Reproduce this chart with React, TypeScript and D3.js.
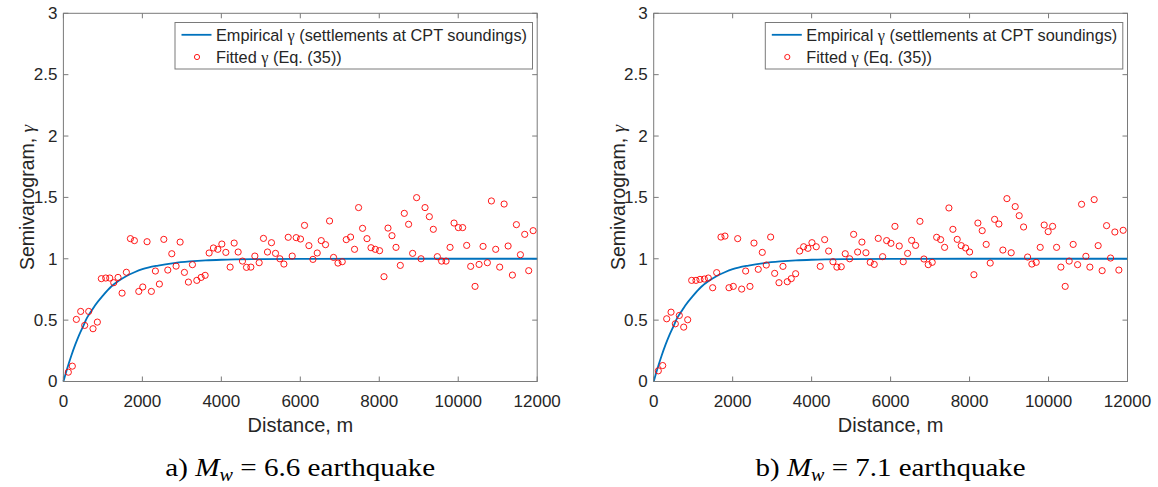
import React from "react";
import * as d3 from "d3";

// ---------- data ----------
const xTicks = [0, 2000, 4000, 6000, 8000, 10000, 12000];
const yTicks = [0, 0.5, 1, 1.5, 2, 2.5, 3];

const curveDist = [0, 100, 200, 300, 400, 500, 600, 700, 800, 1000, 1200, 1400, 1600, 1800, 2000, 2400, 2800, 3200, 3600, 4000, 5000, 6000, 8000, 10000, 12000];
const curveGammaA = [0, 0.11, 0.21, 0.3, 0.38, 0.45, 0.52, 0.57, 0.62, 0.7, 0.77, 0.82, 0.86, 0.89, 0.915, 0.945, 0.965, 0.978, 0.987, 0.992, 0.997, 0.999, 1.0, 1.0, 1.0];
const curveGammaB = [0, 0.11, 0.21, 0.3, 0.38, 0.45, 0.52, 0.57, 0.62, 0.7, 0.77, 0.82, 0.86, 0.89, 0.915, 0.945, 0.965, 0.978, 0.987, 0.992, 0.997, 0.999, 1.0, 1.0, 1.0];

const distA = [125, 226, 328, 438, 539, 641, 750, 860, 961, 1072, 1174, 1275, 1384, 1486, 1595, 1697, 1798, 1909, 2010, 2119, 2228, 2330, 2431, 2543, 2644, 2745, 2854, 2956, 3065, 3166, 3268, 3379, 3488, 3590, 3691, 3800, 3911, 4013, 4114, 4223, 4325, 4426, 4535, 4637, 4748, 4849, 4958, 5067, 5169, 5270, 5372, 5483, 5585, 5694, 5795, 5896, 6005, 6107, 6218, 6320, 6429, 6530, 6639, 6741, 6842, 6954, 7062, 7164, 7273, 7374, 7476, 7577, 7689, 7790, 7899, 8008, 8120, 8221, 8322, 8424, 8533, 8634, 8743, 8845, 8946, 9058, 9159, 9268, 9369, 9471, 9580, 9691, 9793, 9894, 10003, 10112, 10214, 10315, 10426, 10528, 10629, 10738, 10840, 10949, 11050, 11162, 11263, 11372, 11473, 11575, 11684, 11785, 11897];
const gammaA = [0.076, 0.125, 0.506, 0.571, 0.457, 0.571, 0.43, 0.484, 0.838, 0.843, 0.843, 0.805, 0.848, 0.72, 0.89, 1.164, 1.148, 0.734, 0.77, 1.139, 0.734, 0.9, 0.794, 1.158, 0.908, 1.041, 0.94, 1.136, 0.889, 0.81, 0.952, 0.824, 0.848, 0.865, 1.047, 1.088, 1.077, 1.12, 1.052, 0.932, 1.128, 1.055, 0.981, 0.93, 0.932, 1.022, 0.968, 1.166, 1.055, 1.131, 1.044, 1.0, 0.957, 1.175, 1.022, 1.172, 1.161, 1.272, 1.107, 0.995, 1.047, 1.148, 1.115, 1.308, 1.011, 0.965, 0.976, 1.156, 1.177, 1.077, 1.417, 1.248, 1.164, 1.09, 1.077, 1.066, 0.854, 1.25, 1.188, 1.093, 0.946, 1.37, 1.281, 1.044, 1.498, 1.0, 1.417, 1.343, 1.24, 1.017, 0.981, 0.981, 1.093, 1.291, 1.254, 1.254, 1.109, 0.938, 0.775, 0.954, 1.101, 0.968, 1.471, 1.077, 0.932, 1.446, 1.104, 0.867, 1.278, 1.033, 1.199, 0.903, 1.229];

const distB = [117, 228, 329, 439, 548, 649, 760, 861, 962, 1071, 1172, 1282, 1383, 1494, 1595, 1704, 1805, 1907, 2016, 2127, 2228, 2329, 2438, 2540, 2648, 2750, 2851, 2962, 3064, 3173, 3274, 3383, 3484, 3595, 3697, 3798, 3907, 4008, 4117, 4218, 4330, 4431, 4540, 4641, 4750, 4851, 4963, 5064, 5165, 5274, 5375, 5484, 5586, 5687, 5798, 5900, 6008, 6110, 6219, 6320, 6431, 6533, 6634, 6743, 6844, 6953, 7054, 7166, 7267, 7368, 7477, 7578, 7687, 7788, 7900, 8001, 8110, 8211, 8320, 8421, 8523, 8634, 8743, 8844, 8946, 9054, 9156, 9257, 9368, 9470, 9578, 9688, 9789, 9890, 9991, 10103, 10204, 10313, 10422, 10523, 10624, 10736, 10837, 10946, 11047, 11156, 11257, 11358, 11470, 11571, 11680, 11781, 11890];
const gammaB = [0.087, 0.13, 0.511, 0.565, 0.47, 0.538, 0.443, 0.503, 0.824, 0.824, 0.832, 0.835, 0.843, 0.764, 0.887, 1.177, 1.185, 0.764, 0.775, 1.164, 0.753, 0.9, 0.775, 1.128, 0.914, 1.052, 0.949, 1.177, 0.881, 0.805, 0.938, 0.813, 0.838, 0.878, 1.063, 1.098, 1.085, 1.131, 1.098, 0.938, 1.156, 1.063, 0.976, 0.932, 0.935, 1.041, 1.0, 1.199, 1.055, 1.136, 1.049, 0.971, 0.954, 1.166, 1.017, 1.148, 1.126, 1.264, 1.104, 0.976, 1.044, 1.15, 1.109, 1.305, 0.998, 0.952, 0.971, 1.175, 1.156, 1.093, 1.414, 1.24, 1.158, 1.107, 1.088, 1.055, 0.87, 1.291, 1.229, 1.117, 0.965, 1.321, 1.283, 1.071, 1.49, 1.049, 1.425, 1.351, 1.259, 1.014, 0.957, 0.971, 1.093, 1.275, 1.221, 1.264, 1.093, 0.932, 0.775, 0.981, 1.117, 0.952, 1.444, 1.02, 0.932, 1.482, 1.107, 0.903, 1.27, 1.006, 1.218, 0.908, 1.232];

const yLabel = "Semivarogram, ";
const xLabel = "Distance, m";
const legendLine = ["Empirical ", " (settlements at CPT soundings)"];
const legendMarker = ["Fitted ", " (Eq. (35))"];
const captionA = { prefix: "a) ", value: "6.6" };
const captionB = { prefix: "b) ", value: "7.1" };

// ---------- styling ----------
const SANS = "'Liberation Sans', Arial, Helvetica, sans-serif";
const SERIF = "'Liberation Serif', 'Times New Roman', serif";
const BLUE = "#0072BD";
const RED = "#FF0000";
const AXIS = "#7a7a7a";
const TEXT = "#262626";

type PanelProps = {
  x0: number;
  curveD: number[];
  curveG: number[];
  dist: number[];
  gamma: number[];
  caption: { prefix: string; value: string };
  clipId: string;
};

function Panel({ x0, curveD, curveG, dist, gamma, caption, clipId }: PanelProps) {
  const W = 473.8;
  const top = 13.3;
  const bottom = 381.5;
  const x = d3.scaleLinear().domain([0, 12000]).range([x0, x0 + W]);
  const y = d3.scaleLinear().domain([0, 3]).range([bottom, top]);
  const line = d3
    .line<number>()
    .x((_, i) => x(curveD[i]))
    .y((d) => y(d))
    .curve(d3.curveMonotoneX);
  const tl = 5;
  const lx = x0 + 111.6;
  const cx = (x(0) + x(12000)) / 2;
  return (
    <g>
      <rect x={x0} y={top} width={W} height={bottom - top} fill="white" />
      {xTicks.map((t) => (
        <g key={"xt" + t}>
          <line x1={x(t)} x2={x(t)} y1={bottom} y2={bottom - tl} stroke={AXIS} />
          <line x1={x(t)} x2={x(t)} y1={top} y2={top + tl} stroke={AXIS} />
        </g>
      ))}
      {yTicks.map((t) => (
        <g key={"yt" + t}>
          <line x1={x0} x2={x0 + tl} y1={y(t)} y2={y(t)} stroke={AXIS} />
          <line x1={x0 + W} x2={x0 + W - tl} y1={y(t)} y2={y(t)} stroke={AXIS} />
        </g>
      ))}
      <g clipPath={`url(#${clipId})`}>
        {xTicks.map((t) => (
          <text key={"xl" + t} x={x(t)} y={407} textAnchor="middle" fontFamily={SANS} fontSize={17} fill={TEXT}>
            {t}
          </text>
        ))}
      </g>
      {yTicks.map((t) => (
        <text key={"yl" + t} x={x0 - 6} y={y(t) + 5.8} textAnchor="end" fontFamily={SANS} fontSize={17} fill={TEXT}>
          {t}
        </text>
      ))}
      <path d={line(curveG) || ""} fill="none" stroke={BLUE} strokeWidth={1.8} />
      {dist.map((d, i) => (
        <circle key={"p" + i} cx={x(d)} cy={y(gamma[i])} r={3.1} fill="none" stroke={RED} strokeWidth={0.9} />
      ))}
      <rect x={x0} y={top} width={W} height={bottom - top} fill="none" stroke={AXIS} strokeWidth={1} />
      <rect x={lx} y={22.5} width={357.5} height={46.5} fill="white" stroke={AXIS} strokeWidth={1} />
      <line x1={lx + 6.5} x2={lx + 36.5} y1={34.8} y2={34.8} stroke={BLUE} strokeWidth={1.8} />
      <text x={lx + 41} y={41} fontFamily={SANS} fontSize={16.3} fill={TEXT}>
        {legendLine[0]}
        <tspan fontFamily={SERIF}>γ</tspan>
        {legendLine[1]}
      </text>
      <circle cx={lx + 22} cy={57} r={2.6} fill="none" stroke={RED} strokeWidth={0.9} />
      <text x={lx + 41} y={63} fontFamily={SANS} fontSize={16.3} fill={TEXT}>
        {legendMarker[0]}
        <tspan fontFamily={SERIF}>γ</tspan>
        {legendMarker[1]}
      </text>
      <text
        transform={`translate(${x0 - 29},${(top + bottom) / 2}) rotate(-90)`}
        textAnchor="middle"
        fontFamily={SANS}
        fontSize={19.5}
        fill={TEXT}
      >
        {yLabel}
        <tspan fontFamily={SERIF} fontStyle="italic">γ</tspan>
      </text>
      <text x={cx} y={432} textAnchor="middle" fontFamily={SANS} fontSize={20} fill={TEXT}>
        {xLabel}
      </text>
      <text
        x={cx - 135}
        y={476}
        fontFamily={SERIF}
        fontSize={26}
        fill="#000"
        textLength={270}
        lengthAdjust="spacingAndGlyphs"
      >
        {caption.prefix}
        <tspan fontStyle="italic">M</tspan>
        <tspan fontStyle="italic" fontSize={18} dy={5}>w</tspan>
        <tspan dy={-5}>{" = " + caption.value + " earthquake"}</tspan>
      </text>
    </g>
  );
}

export default function App() {
  return (
    <svg
      width={1158}
      height={487}
      viewBox="0 0 1158 487"
      style={{ position: "absolute", left: 0, top: 0, background: "white" }}
    >
      <defs>
        <clipPath id="clipA">
          <rect x={0} y={0} width={1158} height={487} />
        </clipPath>
        <clipPath id="clipB">
          <rect x={0} y={0} width={1152} height={487} />
        </clipPath>
      </defs>
      <rect x={0} y={0} width={1158} height={487} fill="white" />
      <Panel x0={63.4} curveD={curveDist} curveG={curveGammaA} dist={distA} gamma={gammaA} caption={captionA} clipId="clipA" />
      <Panel x0={653.7} curveD={curveDist} curveG={curveGammaB} dist={distB} gamma={gammaB} caption={captionB} clipId="clipB" />
    </svg>
  );
}
